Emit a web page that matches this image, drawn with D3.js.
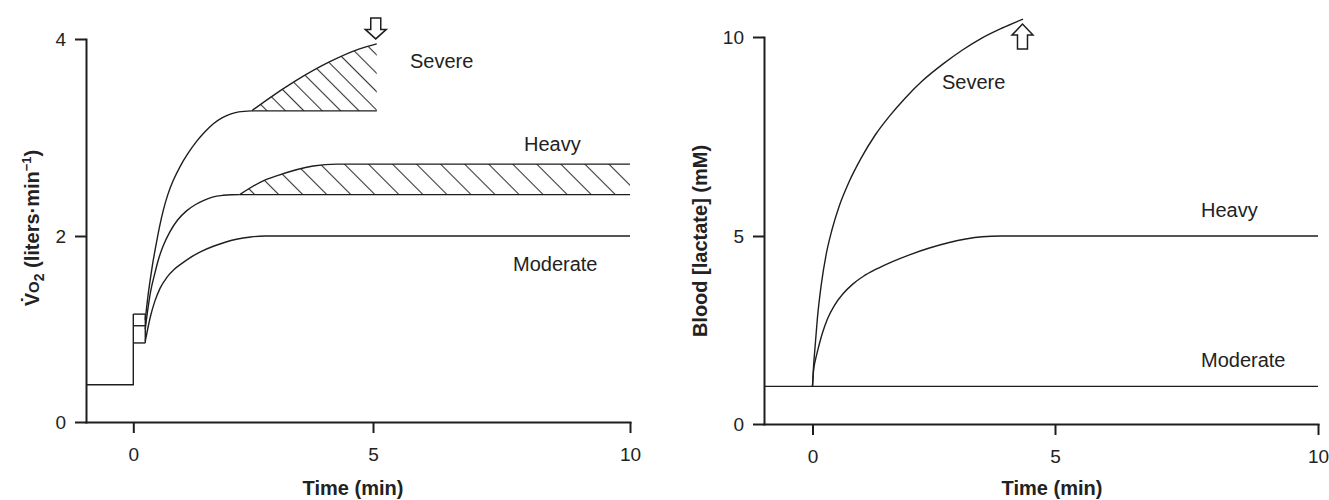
<!DOCTYPE html>
<html>
<head>
<meta charset="utf-8">
<script src="https://cdnjs.cloudflare.com/ajax/libs/d3/7.8.5/d3.min.js"></script>
<style>
    body { margin: 0; background: #fff; }
    svg text { font-family: "Liberation Sans", Arial, sans-serif; fill: #222; }
</style>
</head>
<body>
<div id="chart"></div>
<script>
// ---- data ----
const timeMajor = [0, 5, 10];
const timeMinor = [1, 2, 3, 4, 6, 7, 8, 9];
const vo2Ticks = [0, 2, 4];
const lacTicks = [0, 5, 10];

// left panel: VO2 (liters/min) against time (min)
const vo2Baseline = [[-1, 0.4], [0, 0.4], [0, 1.16]];
const vo2Phase1 = [1.16, 1.035, 0.85];
const phase1End = 0.25;
const vo2Moderate = [[0.25, 0.87], [0.3, 1.0], [0.36, 1.14], [0.45, 1.3], [0.56, 1.44], [0.7, 1.555],
    [0.85, 1.64], [1.0, 1.70], [1.18, 1.765], [1.4, 1.83], [1.67, 1.89], [1.9, 1.93], [2.15, 1.965],
    [2.45, 1.99], [2.74, 2.0], [10, 2.0]];
const vo2Heavy = [[0.25, 1.0], [0.3, 1.2], [0.36, 1.4], [0.44, 1.58], [0.52, 1.74], [0.62, 1.89],
    [0.76, 2.04], [0.92, 2.16], [1.11, 2.255], [1.3, 2.32], [1.46, 2.36], [1.65, 2.395], [1.87, 2.413],
    [2.05, 2.419], [2.22, 2.42]];
const vo2HeavySlow = [[2.22, 2.42], [2.71, 2.56], [2.99, 2.61], [3.75, 2.71], [4.24, 2.73], [10, 2.73]];
const vo2Severe = [[0.25, 1.1], [0.3, 1.33], [0.35, 1.52], [0.4, 1.69], [0.48, 1.92], [0.55, 2.1],
    [0.625, 2.26], [0.72, 2.42], [0.83, 2.56], [0.97, 2.7], [1.13, 2.83], [1.32, 2.96], [1.5, 3.06],
    [1.67, 3.14], [1.85, 3.2], [2.01, 3.235], [2.2, 3.26], [2.47, 3.27]];
const vo2SevereSlow = [[2.47, 3.27], [2.78, 3.38], [3.4, 3.58], [4.1, 3.77], [4.72, 3.9], [5.07, 3.95]];

// right panel: blood lactate (mM) against time (min)
const lacModerate = [[-1, 1.0], [10, 1.0]];
const lacHeavy = [[0, 1.0], [0.02, 1.4], [0.06, 1.7], [0.11, 1.97], [0.2, 2.4], [0.31, 2.8],
    [0.45, 3.15], [0.62, 3.45], [0.83, 3.72], [1.05, 3.93], [1.3, 4.11], [1.65, 4.32], [2.0, 4.5],
    [2.41, 4.68], [2.8, 4.82], [3.16, 4.92], [3.5, 4.98], [3.88, 5.0], [10, 5.0]];
const lacSevere = [[0, 1.0], [0.02, 1.5], [0.05, 2.0], [0.1, 2.8], [0.18, 3.7], [0.28, 4.5],
    [0.4, 5.15], [0.55, 5.75], [0.75, 6.35], [1.0, 6.95], [1.3, 7.55], [1.6, 8.03], [1.9, 8.45],
    [2.25, 8.88], [2.7, 9.33], [3.1, 9.68], [3.5, 9.98], [3.9, 10.22], [4.34, 10.45]];

const width = 1329, height = 500;
const ink = "#1e1e1e";

const svg = d3.select("#chart").append("svg")
    .attr("width", width)
    .attr("height", height);

const defs = svg.append("defs");
function hatch(id, gap) {
    const p = defs.append("pattern")
        .attr("id", id)
        .attr("patternUnits", "userSpaceOnUse")
        .attr("width", gap).attr("height", gap)
        .attr("patternTransform", "rotate(-45)");
    p.append("line")
        .attr("x1", gap / 2).attr("y1", 0)
        .attr("x2", gap / 2).attr("y2", gap)
        .attr("stroke", "#333").attr("stroke-width", 1.1);
}
hatch("hatchSevere", 13);
hatch("hatchHeavy", 17);

// the time axis is not quite even in the original, so piecewise scales
const xL = d3.scaleLinear().domain([-1, 0, 5, 8, 10]).range([86, 133.3, 373, 534, 630]);
const yL = d3.scaleLinear().domain([0, 2, 4]).range([422, 236, 39]);
const xR = d3.scaleLinear().domain([-1, 0, 5, 8, 10]).range([764, 812.5, 1055, 1221, 1318]);
const yR = d3.scaleLinear().domain([0, 5, 10]).range([424, 236, 37]);

function drawAxes(x, y, ticksY) {
    const gx = svg.append("g")
        .attr("transform", "translate(0," + y.range()[0] + ")");
    gx.call(d3.axisBottom(x).tickValues(timeMinor).tickSize(5).tickSizeOuter(0).tickFormat(""));
    gx.call(d3.axisBottom(x).tickValues(timeMajor).tickSize(11).tickSizeOuter(0).tickPadding(15).tickFormat(d3.format("d")));
    gx.selectAll("path, line").attr("stroke", ink).attr("stroke-width", 2);
    gx.selectAll("text").attr("font-size", 19).style("font-family", null);

    const gy = svg.append("g")
        .attr("transform", "translate(" + x.range()[0] + ",0)");
    gy.call(d3.axisLeft(y).tickValues(ticksY).tickSize(11).tickSizeOuter(0).tickPadding(9).tickFormat(d3.format("d")));
    gy.selectAll("path, line").attr("stroke", ink).attr("stroke-width", 2);
    gy.selectAll("text").attr("font-size", 19).style("font-family", null);
    svg.selectAll(".domain").attr("stroke-linecap", "square");
}
drawAxes(xL, yL, vo2Ticks);
drawAxes(xR, yR, lacTicks);

function curve(x, y, data, kind) {
    const line = d3.line().x(d => x(d[0])).y(d => y(d[1]))
        .curve(kind || d3.curveMonotoneX);
    svg.append("path")
        .attr("d", line(data))
        .attr("fill", "none")
        .attr("stroke", ink)
        .attr("stroke-width", 1.4);
}

function band(x, y, data, base, pat) {
    const area = d3.area().x(d => x(d[0])).y0(y(base)).y1(d => y(d[1]))
        .curve(d3.curveMonotoneX);
    svg.append("path")
        .attr("d", area(data))
        .attr("fill", "url(#" + pat + ")")
        .attr("stroke", "none");
    curve(x, y, [[data[0][0], base], [data[data.length - 1][0], base]], d3.curveLinear);
}

// ---- left panel ----
band(xL, yL, vo2HeavySlow, vo2HeavySlow[0][1], "hatchHeavy");
band(xL, yL, vo2SevereSlow, vo2SevereSlow[0][1], "hatchSevere");

curve(xL, yL, vo2Baseline, d3.curveLinear);
vo2Phase1.forEach(v => curve(xL, yL, [[0, v], [phase1End, v]], d3.curveLinear));
curve(xL, yL, [[phase1End, d3.min(vo2Phase1)], [phase1End, d3.max(vo2Phase1)]], d3.curveLinear);

curve(xL, yL, vo2Moderate);
curve(xL, yL, vo2Heavy);
curve(xL, yL, vo2HeavySlow);
curve(xL, yL, vo2Severe);
curve(xL, yL, vo2SevereSlow);

// ---- right panel ----
curve(xR, yR, lacModerate, d3.curveLinear);
curve(xR, yR, lacHeavy);
curve(xR, yR, lacSevere);

// hollow arrows marking the end of severe exercise
function arrow(cx, tipY, dir, len, head) {
    // dir = 1 points down, -1 points up
    const sw = 5, hw = 10.5;
    const base = tipY - dir * head, tail = tipY - dir * len;
    const pts = [[cx - sw, tail], [cx + sw, tail], [cx + sw, base], [cx + hw, base],
        [cx, tipY], [cx - hw, base], [cx - sw, base]];
    svg.append("path")
        .attr("d", d3.line()(pts) + "Z")
        .attr("fill", "#fff")
        .attr("stroke", ink)
        .attr("stroke-width", 1.5)
        .attr("stroke-linejoin", "miter");
}
const sevEndL = vo2SevereSlow[vo2SevereSlow.length - 1];
arrow(xL(sevEndL[0]) - 1, yL(sevEndL[1]) - 5, 1, 21, 9.5);
const sevEndR = lacSevere[lacSevere.length - 1];
arrow(xR(sevEndR[0]) - 0.5, yR(sevEndR[1]) + 5, -1, 25, 11);

// ---- text ----
function label(txt, x, y, opts) {
    opts = opts || {};
    svg.append("text")
        .attr("x", x).attr("y", y)
        .attr("font-size", opts.size || 20)
        .attr("font-weight", opts.bold ? "bold" : null)
        .attr("text-anchor", opts.anchor || "start")
        .text(txt);
}
label("Severe", 410, 68);
label("Heavy", 524, 151);
label("Moderate", 513, 271);
label("Severe", 942, 89);
label("Heavy", 1201, 217);
label("Moderate", 1201, 367);

label("Time (min)", 353, 495, { bold: true, anchor: "middle" });
label("Time (min)", 1052, 495, { bold: true, anchor: "middle" });

const yTitleL = svg.append("text")
    .attr("transform", "translate(39,228) rotate(-90)")
    .attr("text-anchor", "middle")
    .attr("font-weight", "bold")
    .attr("font-size", 20);
yTitleL.append("tspan").text("V\u0307");
yTitleL.append("tspan").attr("font-size", 15).text("O");
yTitleL.append("tspan").attr("font-size", 14).attr("dy", 5).text("2");
yTitleL.append("tspan").attr("dy", -5).text(" (liters\u00b7min");
yTitleL.append("tspan").attr("font-size", 13).attr("dy", -8).text("\u22121");
yTitleL.append("tspan").attr("dy", 8).text(")");

svg.append("text")
    .attr("transform", "translate(707,241) rotate(-90)")
    .attr("text-anchor", "middle")
    .attr("font-weight", "bold")
    .attr("font-size", 20)
    .text("Blood [lactate] (mM)");
</script>
</body>
</html>
